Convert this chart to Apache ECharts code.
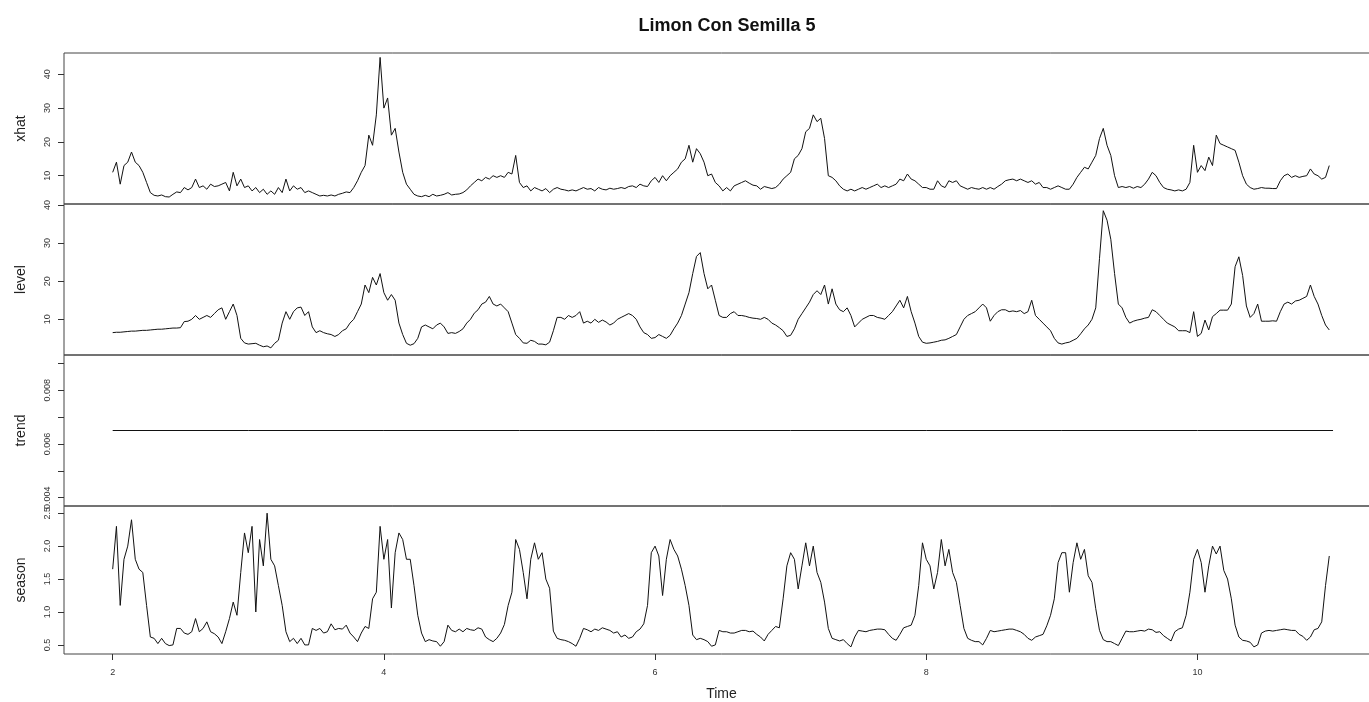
<!DOCTYPE html>
<html>
<head>
<meta charset="utf-8">
<script src="https://cdn.jsdelivr.net/npm/echarts@6/dist/echarts.min.js"></script>
<style>
html,body{margin:0;padding:0;background:#fff;overflow:hidden;width:1369px;height:702px;}
#chart{width:1400px;height:702px;}
</style>
</head>
<body>
<div id="chart"></div>
<script>
// ---- data (time series start 2, 36 observations per unit of time) ----
const startTime = 2;
const frequency = 36;

const xhatValues = [
  11,14,7.5,13,14,17,14,13,11,8, 5,4.2,4,4.3,3.8,3.7,4.5,5.2,5,6.5, 5.8,6.5,9,6.5,7,6,7.5,6.8,7,7.5, 8,5.5,11,7,9,6.5,
  7,5.5,6.5,5,6,4.5,5.5,4.5,6.5,5, 9,5.5,7,6,6.5,5,5.5,5,4.5,4, 4.2,4,4.3,4,4.5,4.8,5.2,5,6.5,8.5, 11,13,22,19,28,45,
  30,33,22,24,17,11,7.5,6,4.5,4, 3.8,4.2,3.8,4.5,4,4.2,4.5,5,4.3,4.5, 4.6,5,5.8,7,8,9,8.5,9.5,9,10, 9.5,10,9.5,11,10.5,16,
  8,6.5,7,5.5,6.5,6,5.5,6.2,5,6, 6.5,6,5.8,5.5,5.8,5.5,6,6.5,6,6.2, 5.5,6.5,6,5.8,6.3,6,6.2,6.5,6.2,6.8, 7,6.5,7.5,7,6.8,8.5,
  9.5,8,10,8.5,10,11,12,14,15,19, 14,18,16.5,14,10,10.5,8,7,5.5,6.5, 5.5,7,7.5,8,8.5,7.8,7.2,7,6,6.8, 6.5,6.2,6.5,7.5,9,10,
  11,15,16,18,23,24,28,26,27,21, 10,9.5,8.5,7,6,5.5,6,5.5,6,6.5, 6,6.5,7,7.5,6.5,7,6.5,7,7.5,9, 8.5,10.5,9,8.5,7.5,6.5,
  6.5,6,6,8.5,7,6.5,8.5,8,8.5,7, 6.5,6,6.5,6.2,6,6.5,6,6.5,6,6.8, 7.5,8.5,8.8,9,8.5,9,8.5,8,8.5,7.5, 8,6.5,6.5,6,6.5,7,
  6.5,6,6,7.5,9.5,11,12.5,12,14,16, 21,24,19,16,10,6.5,6.8,6.5,6.8,6.3, 6.8,6.5,7.5,9,11,10,8,6.5,6,5.8, 5.5,5.8,5.5,6,8,19,
  11,13,11.5,15.5,13,22,19.5,19,18.5,18, 17.5,14,10,7.5,6.5,6,6.2,6.5,6.3,6.3, 6.2,6.2,8.5,10,10.5,9.5,10,9.5,9.8,10, 12,10.5,10,9,9.5,13
];

const levelValues = [
  6.5,6.6,6.6,6.7,6.8,6.9,6.9,7.0,7.1,7.1, 7.2,7.3,7.4,7.4,7.5,7.6,7.7,7.7,7.8,9.4, 9.5,10,11,10,10.5,11,10.5,11.5,12.5,13, 10,12,14,11,5,3.8,
  3.5,3.6,3.7,3.2,2.8,3,2.5,3.7,4.5,9, 12,10,12,13,13.2,11,12,8,6.5,7, 6.5,6.2,6,5.5,6,7,7.5,9,10,12, 14,19,17,21,19,22,
  17,15,16.5,15,9,6,3.7,3.2,3.6,5, 8,8.5,8,7.5,8.5,9,8,6.3,6.5,6.3, 6.8,7.5,9,10,11.6,12.5,14,14.5,16,14, 13.5,14,13,12,9,6,
  5,3.8,3.7,4.5,4.2,3.5,3.5,3.3,4,7, 10.5,10.5,10,11,10.5,11,12,9,9.5,9, 10,9.2,9.8,9.3,8.5,9,10,10.5,11,11.5, 11,10,8,6.5,6,5,
  5.2,6,5.5,5,5.8,7.5,9,11,14,17, 22,26.5,27.5,22,18,19,15,11,10.5,10.5, 11.5,12,11,11,10.8,10.5,10.3,10.2,10,10.5, 10,9,8.5,7.8,7,5.5,
  5.8,7.5,10,11.5,13,14.5,16.5,17.5,16.5,19, 14,18,14,12.5,12,13,11,8,9,10, 10.5,11,11,10.5,10.3,10,11,12,13.5,15, 13,16,12,9,5.5,4,
  3.7,3.8,4,4.2,4.5,4.6,5,5.5,6,8, 10,11,11.5,12,13,14,13,9.5,11,12, 12.5,12.5,12,12.2,12,12.3,11.5,12,15,11, 10,9,8,7,5,3.8,
  3.5,3.8,4,4.5,5,6.2,7.5,8.5,10,13, 26,38.5,36,31,22,14,13,10.5,9,9.5, 9.8,10,10.3,10.5,12.5,12,11,10,9,8.5, 8,7,7,7,6.5,12,
  5.5,6.3,9.8,7.2,10.7,11.5,12.4,12.4,12.4,14, 23.8,26.4,21.5,13.5,10.5,11.5,14,9.5,9.5,9.5, 9.6,9.5,12,14,14.5,14,14.8,15,15.5,16, 19,16,14,11,8.5,7.2
];

const trendValues = [0.0065,0.0065,0.0065,0.0065,0.0065,0.0065,0.0065,0.0065,0.0065,0.0065];
const trendFrequency = 1;

const seasonValues = [
  1.65,2.3,1.1,1.8,2.0,2.4,1.8,1.65,1.6,1.1, 0.62,0.6,0.52,0.6,0.52,0.49,0.5,0.75,0.75,0.68, 0.66,0.7,0.9,0.7,0.75,0.85,0.7,0.67,0.62,0.52, 0.7,0.9,1.15,0.95,1.6,2.2,
  1.9,2.3,1.0,2.1,1.7,2.5,1.8,1.7,1.4,1.1, 0.7,0.55,0.6,0.52,0.6,0.5,0.5,0.75,0.72,0.75, 0.68,0.7,0.82,0.73,0.75,0.74,0.8,0.68,0.62,0.55, 0.68,0.78,0.75,1.2,1.3,2.3,
  1.8,2.1,1.06,1.9,2.2,2.1,1.8,1.8,1.4,0.95, 0.68,0.55,0.58,0.56,0.55,0.48,0.55,0.8,0.72,0.7, 0.74,0.7,0.75,0.73,0.72,0.76,0.74,0.62,0.58,0.55, 0.6,0.68,0.81,1.1,1.3,2.1,
  1.95,1.6,1.2,1.8,2.05,1.8,1.9,1.5,1.36,0.71, 0.6,0.58,0.57,0.55,0.52,0.48,0.6,0.75,0.73,0.7, 0.74,0.72,0.76,0.74,0.72,0.68,0.7,0.62,0.65,0.6, 0.62,0.7,0.74,0.82,1.1,1.9,
  2.0,1.85,1.25,1.8,2.1,1.95,1.85,1.65,1.4,1.1, 0.65,0.58,0.6,0.58,0.55,0.48,0.5,0.72,0.7,0.7, 0.68,0.68,0.7,0.72,0.72,0.7,0.71,0.66,0.62,0.56, 0.66,0.72,0.78,0.76,1.2,1.7,
  1.9,1.8,1.35,1.7,2.05,1.7,2.0,1.6,1.45,1.15, 0.75,0.6,0.58,0.56,0.58,0.52,0.47,0.62,0.72,0.71, 0.7,0.72,0.73,0.74,0.74,0.73,0.66,0.6,0.57,0.66, 0.76,0.78,0.8,0.95,1.4,2.05,
  1.8,1.7,1.35,1.6,2.1,1.7,1.95,1.6,1.45,1.1, 0.75,0.6,0.57,0.55,0.55,0.5,0.6,0.72,0.7,0.71, 0.72,0.73,0.74,0.74,0.72,0.7,0.66,0.6,0.57,0.62, 0.64,0.66,0.79,0.95,1.2,1.75,
  1.9,1.9,1.3,1.75,2.05,1.8,1.95,1.55,1.45,1.05, 0.72,0.58,0.55,0.55,0.52,0.49,0.6,0.71,0.7,0.7, 0.71,0.72,0.71,0.74,0.73,0.69,0.7,0.64,0.6,0.56, 0.7,0.74,0.76,0.95,1.3,1.8,
  1.95,1.75,1.3,1.7,2.0,1.88,2.0,1.63,1.5,1.2, 0.8,0.62,0.57,0.56,0.54,0.47,0.5,0.68,0.71,0.72, 0.71,0.72,0.73,0.74,0.73,0.72,0.72,0.66,0.63,0.57, 0.62,0.73,0.75,0.85,1.4,1.85
];

// ---- tick labels ----
const timeTicks = [2,4,6,8,10];
const xhatTicks = [10,20,30,40];
const levelTicks = [10,20,30,40];
const trendTicks = [0.004,0.005,0.006,0.007,0.008,0.009];
const trendLabels = [0.004,0.006,0.008];
const seasonTicks = [0.5,1.0,1.5,2.0,2.5];

const chartTitle = 'Limon Con Semilla 5';
const panelNames = ['xhat','level','trend','season'];
const timeName = 'Time';

// ---- build ----
function toPairs(vals, start, freq){ return vals.map((v,k)=>[start + k/freq, v]); }

const panels = [
  {top:53, height:151, min:1.63, max:46.3, ticks:xhatTicks, labels:xhatTicks, fmt:v=>String(v), data:toPairs(xhatValues,startTime,frequency)},
  {top:204, height:151, min:0.63, max:40.26, ticks:levelTicks, labels:levelTicks, fmt:v=>String(v), data:toPairs(levelValues,startTime,frequency)},
  {top:355, height:151, min:0.003691, max:0.009309, ticks:trendTicks, labels:trendLabels, fmt:v=>v.toFixed(3), data:toPairs(trendValues,startTime,trendFrequency)},
  {top:506, height:151, min:0.362, max:2.609, ticks:seasonTicks, labels:seasonTicks, fmt:v=>v.toFixed(1), data:toPairs(seasonValues,startTime,frequency)}
];

const font = 'Liberation Sans, Arial, sans-serif';
const axisColor = '#333';
const grids = [], xAxes = [], yAxes = [], series = [];
panels.forEach((p,i)=>{
  const last = i === panels.length-1;
  grids.push({left:64, width:1315, top:p.top, height:p.height, show:true, borderColor:'#444', borderWidth:1, backgroundColor:'transparent'});
  xAxes.push({
    type:'value', gridIndex:i, min:1.641, max:11.339,
    splitLine:{show:false},
    axisLine:{show:false},
    axisTick:{show:last, customValues:timeTicks, length:6, lineStyle:{color:axisColor}},
    axisLabel:{show:last, customValues:timeTicks, margin:14, fontSize:9, color:'#333', fontFamily:font},
    name: last ? timeName : '', nameLocation:'middle', nameGap:33,
    nameTextStyle:{fontSize:14, color:'#222', fontFamily:font}
  });
  yAxes.push({
    type:'value', gridIndex:i, min:p.min, max:p.max,
    splitLine:{show:false},
    axisLine:{show:false},
    axisTick:{show:true, customValues:p.ticks, length:6, lineStyle:{color:axisColor}},
    axisLabel:{show:true, customValues:p.labels, rotate:90, margin:12, fontSize:9, color:'#333',
      fontFamily:font, formatter:p.fmt},
    name:panelNames[i], nameLocation:'middle', nameGap:36, nameRotate:90,
    nameTextStyle:{fontSize:14, color:'#222', fontFamily:font}
  });
  series.push({
    type:'line', xAxisIndex:i, yAxisIndex:i, data:p.data, showSymbol:false, symbol:'none',
    lineStyle:{color:'#111', width:1}, silent:true, animation:false
  });
});

const chart = echarts.init(document.getElementById('chart'), null, {renderer:'canvas'});
chart.setOption({
  animation:false,
  backgroundColor:'#fff',
  title:{text:chartTitle, left:722, top:12, textAlign:'center',
    textStyle:{fontSize:18, fontWeight:'bold', color:'#111', fontFamily:font}},
  grid:grids, xAxis:xAxes, yAxis:yAxes, series:series
});
</script>
</body>
</html>
